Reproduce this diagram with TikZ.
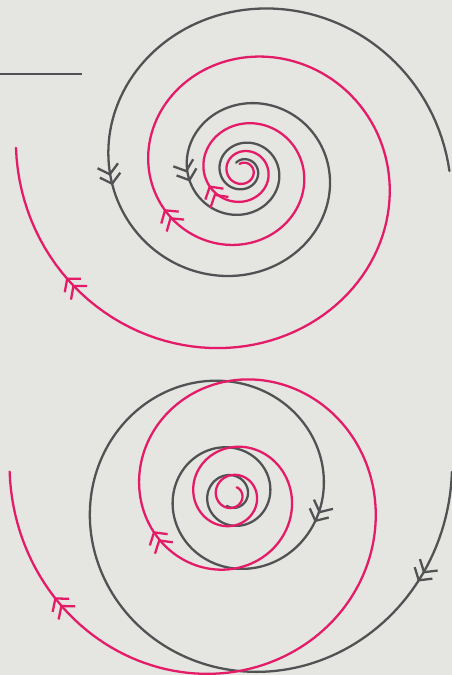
\documentclass[tikz,border=0pt]{standalone}
\usetikzlibrary{arrows.meta,decorations.markings}
\definecolor{spiralred}{RGB}{228,28,104}
\definecolor{spiralgray}{RGB}{80,82,84}
\definecolor{paper}{RGB}{229,229,226}
\begin{document}
\begin{tikzpicture}[x=0.02cm, y=0.02cm,
  chev/.tip={Straight Barb[length=5pt,width=12pt,sep=-1pt] Straight Barb[length=5pt,width=12pt]},
  orbit/.style={line width=1.3pt, line cap=round},
  redorbit/.style={orbit, draw=spiralred},
  grayorbit/.style={orbit, draw=spiralgray},
  flow/.style={postaction={decorate, decoration={markings, mark=at position #1 with {\arrow{chev}}}}}]
\path[use as bounding box, fill=paper] (0,0) rectangle (452,675);
\coordinate (topc) at (243,504);
\coordinate (botc) at (232,180);
\draw[spiralgray, line width=1.4pt] (0,601) -- (82,601);
% upper spiral: gray runs in, red runs out
\begin{scope}[shift={(topc)}, yscale=0.97]
\draw[grayorbit, flow=0.384, flow=0.779] plot[domain=-360:849, samples=500, variable=\t]
  ({86.2*exp(-0.139*rad(\t))*cos(\t)}, {86.2*exp(-0.139*rad(\t))*sin(\t)});
\draw[redorbit, flow=0.132, flow=0.364, flow=0.91] plot[domain=0:1381, samples=500, variable=\s]
  ({60.7*exp(-0.139*rad(835-\s))*cos(835-\s)}, {60.7*exp(-0.139*rad(835-\s))*sin(835-\s)});
\end{scope}
% lower spiral
\begin{scope}[shift={(botc)}]
\draw[grayorbit, flow=0.0765, flow=0.641] plot[domain=0:1201, samples=600, variable=\s]
  ({91*exp(0.139*rad(366-\s))*cos(366-\s)}, {91*exp(0.139*rad(366-\s))*sin(366-\s)});
\draw[redorbit, flow=0.362, flow=0.913] plot[domain=0:1325, samples=600, variable=\s]
  ({142.4*exp(-0.139*rad(1139-\s))*cos(1139-\s)}, {142.4*exp(-0.139*rad(1139-\s))*sin(1139-\s)});
\end{scope}
\end{tikzpicture}
\end{document}
